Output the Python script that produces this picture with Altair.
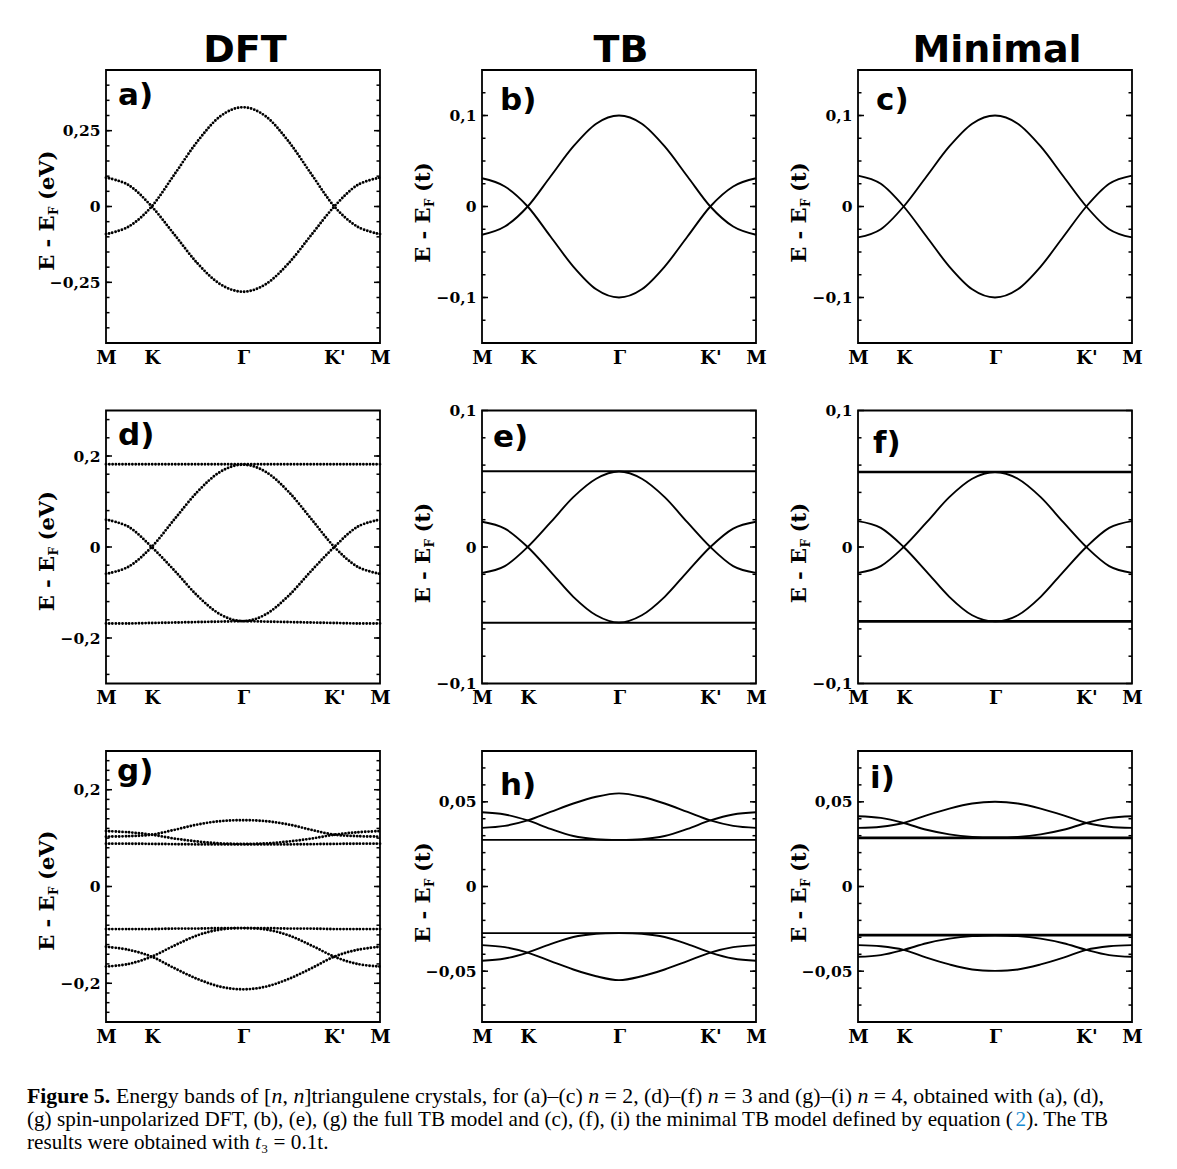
import json
import altair as alt
import pandas as pd

# ---------------- k-path (fraction of the M-K-Γ-K'-M path) ----------------
K_PATH = [0.0, 0.0833, 0.1667, 0.25, 0.3333, 0.4167, 0.5, 0.5833, 0.6667, 0.75, 0.8333, 0.9167, 1.0]
K_ENDS = [0.0, 1.0]
K_TICKS = [0.0, 0.1667, 0.5, 0.8333, 1.0]
K_LABELS = ["M", "K", "Γ", "K'", "M"]

# ---------------- band energies ----------------
# (a) DFT n=2 (eV)
A_RISE = [-0.091, -0.066, 0.000, 0.106, 0.214, 0.297, 0.327, 0.297, 0.214, 0.106, 0.000, -0.066, -0.091]
A_FALL = [0.095, 0.070, 0.000, -0.093, -0.187, -0.256, -0.281, -0.256, -0.187, -0.093, 0.000, 0.070, 0.095]
# (b) TB n=2 (t)
B_RISE = [-0.031, -0.022, 0.000, 0.033, 0.066, 0.091, 0.100, 0.091, 0.066, 0.033, 0.000, -0.022, -0.031]
B_FALL = [0.031, 0.022, 0.000, -0.033, -0.066, -0.091, -0.100, -0.091, -0.066, -0.033, 0.000, 0.022, 0.031]
# (c) Minimal n=2 (t)
C_RISE = [-0.034, -0.025, 0.000, 0.033, 0.066, 0.091, 0.100, 0.091, 0.066, 0.033, 0.000, -0.025, -0.034]
C_FALL = [0.034, 0.025, 0.000, -0.033, -0.066, -0.091, -0.100, -0.091, -0.066, -0.033, 0.000, 0.025, 0.034]
# (d) DFT n=3 (eV)
D_TOP = [0.182, 0.182]
D_BOT = [-0.168, -0.168, -0.167, -0.166, -0.165, -0.164, -0.163, -0.164, -0.165, -0.166, -0.167, -0.168, -0.168]
D_RISE = [-0.059, -0.043, 0.000, 0.061, 0.121, 0.165, 0.181, 0.165, 0.121, 0.061, 0.000, -0.043, -0.059]
D_FALL = [0.060, 0.044, 0.000, -0.052, -0.107, -0.148, -0.163, -0.148, -0.107, -0.052, 0.000, 0.044, 0.060]
# (e) TB n=3 (t)
E_TOP = [0.0555, 0.0555]
E_BOT = [-0.0555, -0.0555]
E_RISE = [-0.019, -0.014, 0.000, 0.018, 0.0365, 0.050, 0.0553, 0.050, 0.0365, 0.018, 0.000, -0.014, -0.019]
E_FALL = [0.0185, 0.0135, 0.000, -0.018, -0.0365, -0.050, -0.0553, -0.050, -0.0365, -0.018, 0.000, 0.0135, 0.0185]
# (f) Minimal n=3 (t)
F_TOP = [0.055, 0.055]
F_BOT = [-0.0545, -0.0545]
F_RISE = [-0.019, -0.014, 0.000, 0.018, 0.0365, 0.050, 0.055, 0.050, 0.0365, 0.018, 0.000, -0.014, -0.019]
F_FALL = [0.019, 0.014, 0.000, -0.018, -0.0365, -0.050, -0.0545, -0.050, -0.0365, -0.018, 0.000, 0.014, 0.019]
# (g) DFT n=4 (eV)
G_U_FLAT = [0.0885, 0.0885, 0.088, 0.0875, 0.087, 0.087, 0.087, 0.087, 0.087, 0.0875, 0.088, 0.0885, 0.0885]
G_U_RISE = [0.103, 0.104, 0.107, 0.117, 0.128, 0.135, 0.137, 0.135, 0.128, 0.117, 0.107, 0.104, 0.103]
G_U_FALL = [0.1145, 0.112, 0.107, 0.099, 0.093, 0.089, 0.088, 0.089, 0.093, 0.099, 0.107, 0.112, 0.1145]
G_L_FLAT = [-0.088, -0.088, -0.088, -0.087, -0.087, -0.086, -0.086, -0.086, -0.087, -0.087, -0.088, -0.088, -0.088]
G_L_FALL = [-0.1245, -0.131, -0.145, -0.169, -0.191, -0.207, -0.2125, -0.207, -0.191, -0.169, -0.145, -0.131, -0.1245]
G_L_RISE = [-0.1655, -0.160, -0.145, -0.122, -0.101, -0.089, -0.086, -0.089, -0.101, -0.122, -0.145, -0.160, -0.1655]
# (h) TB n=4 (t)
H_U_FLAT = [0.0275, 0.0275]
H_U_RISE = [0.0346, 0.0358, 0.039, 0.044, 0.049, 0.053, 0.055, 0.053, 0.049, 0.044, 0.039, 0.0358, 0.0346]
H_U_FALL = [0.0438, 0.0425, 0.039, 0.034, 0.0298, 0.0279, 0.0275, 0.0279, 0.0298, 0.034, 0.039, 0.0425, 0.0438]
H_L_FLAT = [-0.0275, -0.0275]
H_L_RISE = [-0.0438, -0.0425, -0.039, -0.034, -0.0298, -0.0279, -0.0275, -0.0279, -0.0298, -0.034, -0.039, -0.0425, -0.0438]
H_L_FALL = [-0.0346, -0.0358, -0.039, -0.044, -0.049, -0.053, -0.0553, -0.053, -0.049, -0.044, -0.039, -0.0358, -0.0346]
# (i) Minimal n=4 (t)
I_U_FLAT = [0.0287, 0.0287]
I_U_RISE = [0.0346, 0.0353, 0.0375, 0.042, 0.046, 0.049, 0.050, 0.049, 0.046, 0.042, 0.0375, 0.0353, 0.0346]
I_U_FALL = [0.0415, 0.0405, 0.0375, 0.0335, 0.0308, 0.0293, 0.0289, 0.0293, 0.0308, 0.0335, 0.0375, 0.0405, 0.0415]
I_L_FLAT = [-0.0287, -0.0287]
I_L_FALL = [-0.0346, -0.0353, -0.0374, -0.042, -0.046, -0.049, -0.0498, -0.049, -0.046, -0.042, -0.0374, -0.0353, -0.0346]
I_L_RISE = [-0.0415, -0.0405, -0.0374, -0.0335, -0.0308, -0.0293, -0.0289, -0.0293, -0.0308, -0.0335, -0.0374, -0.0405, -0.0415]

BANDS = [
    ("a", "r", "curve", K_PATH, A_RISE), ("a", "f", "curve", K_PATH, A_FALL),
    ("b", "r", "curve", K_PATH, B_RISE), ("b", "f", "curve", K_PATH, B_FALL),
    ("c", "r", "curve", K_PATH, C_RISE), ("c", "f", "curve", K_PATH, C_FALL),
    ("d", "t", "flat", K_ENDS, D_TOP), ("d", "b", "curve", K_PATH, D_BOT),
    ("d", "r", "curve", K_PATH, D_RISE), ("d", "f", "curve", K_PATH, D_FALL),
    ("e", "t", "flat", K_ENDS, E_TOP), ("e", "b", "flat", K_ENDS, E_BOT),
    ("e", "r", "curve", K_PATH, E_RISE), ("e", "f", "curve", K_PATH, E_FALL),
    ("f", "t", "flat", K_ENDS, F_TOP), ("f", "b", "flat", K_ENDS, F_BOT),
    ("f", "r", "curve", K_PATH, F_RISE), ("f", "f", "curve", K_PATH, F_FALL),
    ("g", "uf", "curve", K_PATH, G_U_FLAT), ("g", "ur", "curve", K_PATH, G_U_RISE),
    ("g", "ud", "curve", K_PATH, G_U_FALL), ("g", "lf", "curve", K_PATH, G_L_FLAT),
    ("g", "ld", "curve", K_PATH, G_L_FALL), ("g", "lr", "curve", K_PATH, G_L_RISE),
    ("h", "uf", "flat", K_ENDS, H_U_FLAT), ("h", "ur", "curve", K_PATH, H_U_RISE),
    ("h", "ud", "curve", K_PATH, H_U_FALL), ("h", "lf", "flat", K_ENDS, H_L_FLAT),
    ("h", "lr", "curve", K_PATH, H_L_RISE), ("h", "ld", "curve", K_PATH, H_L_FALL),
    ("i", "uf", "flat", K_ENDS, I_U_FLAT), ("i", "ur", "curve", K_PATH, I_U_RISE),
    ("i", "ud", "curve", K_PATH, I_U_FALL), ("i", "lf", "flat", K_ENDS, I_L_FLAT),
    ("i", "ld", "curve", K_PATH, I_L_FALL), ("i", "lr", "curve", K_PATH, I_L_RISE),
]

# ---------------- axes ----------------
Y_DOMAIN = {"a": [-0.45, 0.45], "b": [-0.15, 0.15], "c": [-0.15, 0.15],
            "d": [-0.3, 0.3], "e": [-0.1, 0.1], "f": [-0.1, 0.1],
            "g": [-0.28, 0.28], "h": [-0.08, 0.08], "i": [-0.08, 0.08]}
Y_MAJOR = {"a": [-0.25, 0, 0.25], "b": [-0.1, 0, 0.1], "c": [-0.1, 0, 0.1],
           "d": [-0.2, 0, 0.2], "e": [-0.1, 0, 0.1], "f": [-0.1, 0, 0.1],
           "g": [-0.2, 0, 0.2], "h": [-0.05, 0, 0.05], "i": [-0.05, 0, 0.05]}
Y_MINOR_STEP = {"a": 0.05, "b": 0.025, "c": 0.025, "d": 0.04, "e": 0.02, "f": 0.02,
                "g": 0.02, "h": 0.01, "i": 0.01}
UNITS = {"a": "(eV)", "d": "(eV)", "g": "(eV)"}
PANEL_LABELS = {"a": "a)", "b": "b)", "c": "c)", "d": "d)", "e": "e)", "f": "f)",
                "g": "g)", "h": "h)", "i": "i)"}
COLUMN_TITLES = ["DFT", "TB", "Minimal"]
GRID = [["a", "b", "c"], ["d", "e", "f"], ["g", "h", "i"]]

# caption: (text, italic, color) segments per line
CAPTION_BOLD = "Figure 5."
CAPTION_L1 = [("Energy bands of [", False, "black"), ("n", True, "black"), (", ", False, "black"),
              ("n", True, "black"), ("]triangulene crystals, for (a)–(c) ", False, "black"),
              ("n", True, "black"), (" = 2, (d)–(f) ", False, "black"), ("n", True, "black"),
              (" = 3 and (g)–(i) ", False, "black"), ("n", True, "black"),
              (" = 4, obtained with (a), (d),", False, "black")]
CAPTION_L2 = [("(g) spin-unpolarized DFT, (b), (e), (g) the full TB model and (c), (f), (i) "
               "the minimal TB model defined by equation (", False, "black"),
              ("2", False, "#1a8bd1"), ("). The TB", False, "black")]
CAPTION_L3 = [("results were obtained with ", False, "black"), ("t", True, "black"),
              ("₃ = 0.1t.", False, "black")]

# ---------------- styling (not data) ----------------
SERIF = "DejaVu Serif"
SANS = "DejaVu Sans"
CAPFONT = "Liberation Serif"
W = 274
ROW_H = [273, 273, 271]
LABEL_POS = {"a": (12, 35), "b": (18, 40), "c": (18, 40), "d": (12, 34), "e": (11, 36),
             "f": (15, 42), "g": (11, 30), "h": (18, 44), "i": (12, 37)}

rows = []
for pid, bid, kind, ks, es in BANDS:
    for k, e in zip(ks, es):
        rows.append({"panel": pid, "band": pid + bid, "kind": kind, "k": k, "E": e})
bands_df = pd.DataFrame(rows)

x_expr = " : ".join(
    f"abs(datum.value - {v}) < 0.01 ? {json.dumps(l, ensure_ascii=False)}"
    for v, l in zip(K_TICKS, K_LABELS)) + " : ''"
y_expr = "datum.value == 0 ? '0' : replace(format(datum.value, '.2~f'), '.', ',')"

# ---------------- caption metrics (Times-compatible widths, 1/1000 em) ----------------
TNR = {' ': 250, '(': 333, ')': 333, ',': 250, '-': 333, '.': 250, '[': 333, ']': 333,
       '=': 564, '–': 500, "'": 180, '₃': 500,
       'A': 722, 'B': 667, 'C': 667, 'D': 722, 'E': 611, 'F': 556, 'G': 722, 'H': 722,
       'I': 333, 'M': 889, 'N': 722, 'T': 611,
       'a': 444, 'b': 500, 'c': 444, 'd': 500, 'e': 444, 'f': 333, 'g': 500, 'h': 500,
       'i': 278, 'j': 278, 'k': 500, 'l': 278, 'm': 778, 'n': 500, 'o': 500, 'p': 500,
       'q': 500, 'r': 333, 's': 389, 't': 278, 'u': 500, 'v': 500, 'w': 722, 'x': 500,
       'y': 500, 'z': 444}
TNR_B = {'F': 611, 'i': 278, 'g': 500, 'u': 556, 'r': 444, 'e': 444, ' ': 250, '5': 500, '.': 250}


def tw(s, table=TNR):
    return sum(table.get(ch, 500) for ch in s) / 1000.0


def seg_w(segs):
    return sum(tw(s) for s, _, _ in segs)


fs_l2 = 1082.0 / seg_w(CAPTION_L2)
fs_l1 = 1077.0 / (tw(CAPTION_BOLD, TNR_B) + tw(" ") + seg_w(CAPTION_L1))


def minor_ticks(pid):
    lo, hi = Y_DOMAIN[pid]
    st = Y_MINOR_STEP[pid]
    out = []
    i = int(round(lo / st))
    while i * st <= hi + 1e-9:
        v = round(i * st, 6)
        if lo + 1e-6 < v < hi - 1e-6:
            out.append(v)
        i += 1
    return out


def txt(t, x, y, **kw):
    return alt.Chart(pd.DataFrame({"t": [t]})).mark_text(**kw).encode(
        x=alt.value(x), y=alt.value(y), text="t:N")


def line_layers(segs, x, y, fs):
    out = []
    for s, it, col in segs:
        lead = len(s) - len(s.lstrip(" "))
        body = s.lstrip(" ")
        xs = x + tw(" ") * lead * fs
        kw = dict(font=CAPFONT, fontSize=fs, align="left", baseline="alphabetic", color=col)
        if it:
            kw["fontStyle"] = "italic"
        if body.strip():
            out.append(txt(body, xs, y, **kw))
        x += tw(s) * fs
    return out


def caption_layers():
    x0 = -79
    ys = [352, 375, 398]
    out = [txt(CAPTION_BOLD, x0, ys[0], font=CAPFONT, fontSize=fs_l1, fontWeight="bold",
               align="left", baseline="alphabetic", color="black")]
    out += line_layers(CAPTION_L1, x0 + (tw(CAPTION_BOLD, TNR_B) + tw(" ")) * fs_l1, ys[0], fs_l1)
    out += line_layers(CAPTION_L2, x0, ys[1], fs_l2)
    out += line_layers(CAPTION_L3, x0, ys[2], fs_l2)
    return out


def make_panel(pid, H, title=None, with_caption=False):
    style = "dft" if pid in ("a", "d", "g") else ("tb" if pid in ("b", "e", "h") else "min")
    x_enc = alt.X("k:Q", scale=alt.Scale(domain=[0, 1], nice=False, zero=False),
                  axis=alt.Axis(values=K_TICKS, labelExpr=x_expr, title=None, ticks=False,
                                tickSize=0, domain=False, grid=False, labelFont=SERIF,
                                labelFontWeight="bold", labelFontSize=18.5, labelPadding=5,
                                labelFlush=False, labelOverlap=False, labelColor="black"))
    y_enc = alt.Y("E:Q", scale=alt.Scale(domain=Y_DOMAIN[pid], nice=False, zero=False),
                  axis=alt.Axis(values=Y_MAJOR[pid], labelExpr=y_expr, title=None, ticks=False,
                                tickSize=0, domain=False, grid=False, labelFont=SERIF,
                                labelFontWeight="bold", labelFontSize=15.5, labelPadding=6,
                                labelOverlap=False, labelColor="black"))
    sub = bands_df[bands_df.panel == pid]
    curves = sub[sub.kind == "curve"]
    flats = sub[sub.kind == "flat"]
    if style == "dft":
        mk = dict(interpolate="cardinal", tension=0, color="black", strokeWidth=2.9,
                  strokeDash=[0, 3.3], strokeCap="round")
        mk_flat = mk
    else:
        mk = dict(interpolate="cardinal", tension=0, color="black", strokeWidth=1.9)
        mk_flat = dict(interpolate="linear", color="black",
                       strokeWidth=2.6 if style == "min" else 1.8)
    layers = [alt.Chart(curves).mark_line(**mk).encode(x=x_enc, y=y_enc, detail="band:N")]
    if len(flats):
        layers.append(alt.Chart(flats).mark_line(**mk_flat).encode(x=x_enc, y=y_enc, detail="band:N"))
    maj = pd.DataFrame({"E": Y_MAJOR[pid]})
    mino = pd.DataFrame({"E": minor_ticks(pid)})
    for df_t, ln in ((maj, 6), (mino, 3.5)):
        layers.append(alt.Chart(df_t).mark_rule(color="black", strokeWidth=1.5).encode(
            y=y_enc, x=alt.value(0), x2=alt.value(ln)))
        layers.append(alt.Chart(df_t).mark_rule(color="black", strokeWidth=1.5).encode(
            y=y_enc, x=alt.value(W), x2=alt.value(W - ln)))
    lx, ly = LABEL_POS[pid]
    layers.append(txt(PANEL_LABELS[pid], lx, ly, font=SANS, fontWeight="bold", fontSize=31,
                      align="left", baseline="alphabetic", color="black"))
    unit = UNITS.get(pid, "(t)")
    P = H / 2 + (9 if unit == "(eV)" else 1)
    xb = -52
    tkw = dict(font=SERIF, fontWeight="bold", angle=270, baseline="alphabetic", color="black")
    layers.append(txt("E - E", xb, P, fontSize=21, align="right", **tkw))
    layers.append(txt("F", xb + 4, P - 0.5, fontSize=12, align="left", **tkw))
    layers.append(txt(unit, xb, P - 15.5, fontSize=21, align="left", **tkw))
    if title:
        layers.append(txt(title, W / 2 + 2, -8, font=SANS, fontWeight="bold", fontSize=38,
                          align="center", baseline="alphabetic", color="black"))
    if with_caption:
        layers.extend(caption_layers())
    return alt.layer(*layers).properties(width=W, height=H)


panels = []
for r, row in enumerate(GRID):
    for c, pid in enumerate(row):
        panels.append(make_panel(pid, ROW_H[r], COLUMN_TITLES[c] if r == 0 else None,
                                 with_caption=(pid == "g")))

chart = alt.concat(*panels, columns=3, spacing={"row": 67.5, "column": 102},
                   bounds="flush").properties(
    padding={"left": 18, "top": 23, "right": 5, "bottom": 3},
    background="white",
).configure_view(stroke="black", strokeWidth=1.8)

chart.save("out.html", embed_options={"renderer": "svg", "actions": False})
